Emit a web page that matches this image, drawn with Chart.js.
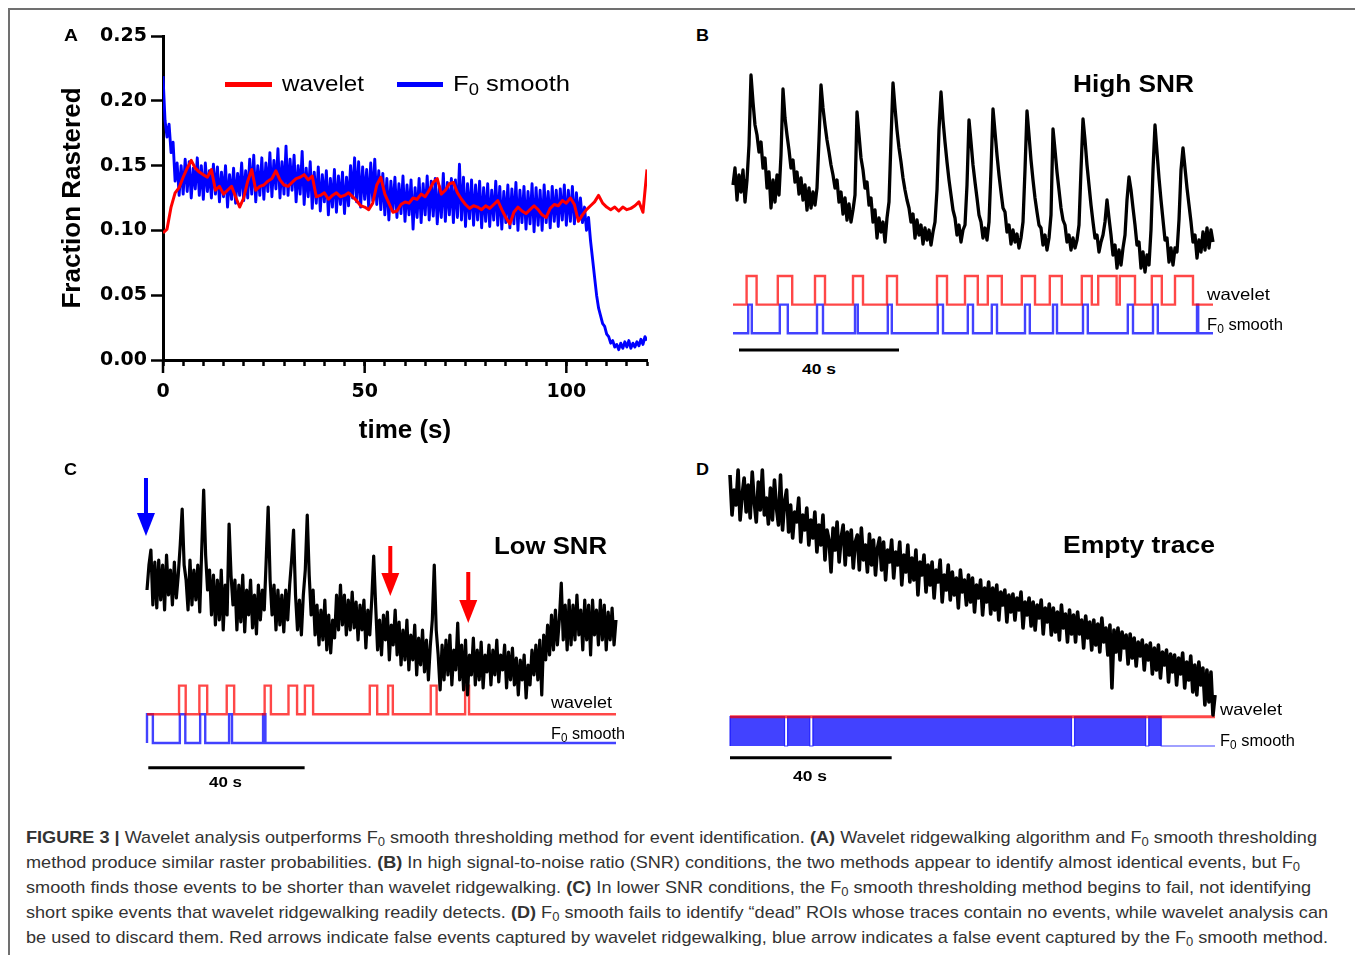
<!DOCTYPE html>
<html lang="en">
<head>
<meta charset="utf-8">
<title>Figure 3</title>
<script src="https://cdn.jsdelivr.net/npm/chart.js@4.4.1/dist/chart.umd.min.js"></script>
<style>
html,body{margin:0;padding:0;background:#fff;}
#fig{position:relative;width:1355px;height:955px;overflow:hidden;background:#fff;font-family:"Liberation Sans",Arial,Helvetica,sans-serif;color:#000;}
#fig canvas{position:absolute;}
.frameT{position:absolute;left:8px;top:8px;width:1347px;height:2px;background:#707070;}
.frameL{position:absolute;left:8px;top:8px;width:2px;height:947px;background:#707070;}
.lbl{position:absolute;white-space:nowrap;line-height:1;transform-origin:0 50%;}
.sub{font-size:0.72em;vertical-align:-0.28em;}
.cap{position:absolute;white-space:nowrap;line-height:1;transform-origin:0 50%;color:#333;font-size:17px;}
.sw{position:absolute;height:5px;}
</style>
</head>
<body>
<div id="fig">
  <div class="frameT"></div><div class="frameL"></div>
  <canvas id="chartA" width="680" height="450" style="left:0;top:0"></canvas>
  <canvas id="chartB" width="500" height="300" style="left:723px;top:60px"></canvas>
  <canvas id="chartC" width="499" height="330" style="left:127px;top:460px"></canvas>
  <canvas id="chartD" width="505" height="330" style="left:720px;top:455px"></canvas>
  <div class="sw" style="left:225px;top:82px;width:47px;background:#ff0000"></div>
  <div class="sw" style="left:397px;top:82px;width:46px;background:#0000ff"></div>
</div>
<script>
// ---------------- DATA ----------------
// Panel A: fraction rastered vs time (s)
const aWaveletStep = 1;      // s between samples
const aWavelet = [
0.098,0.101,0.118,0.129,0.133,0.141,0.148,0.154,0.148,0.145,
0.143,0.141,0.147,0.131,0.134,0.128,0.131,0.134,0.126,0.118,
0.125,0.138,0.147,0.131,0.134,0.135,0.138,0.140,0.146,0.139,
0.135,0.134,0.137,0.140,0.141,0.143,0.139,0.142,0.126,0.127,
0.129,0.124,0.127,0.129,0.126,0.127,0.129,0.126,0.123,0.119,
0.118,0.116,0.121,0.135,0.141,0.128,0.121,0.114,0.115,0.120,
0.122,0.121,0.125,0.124,0.128,0.126,0.131,0.137,0.140,0.128,
0.131,0.136,0.137,0.129,0.124,0.120,0.117,0.119,0.118,0.116,
0.119,0.117,0.120,0.123,0.116,0.110,0.105,0.114,0.118,0.115,
0.113,0.116,0.119,0.116,0.112,0.110,0.117,0.120,0.119,0.123,
0.121,0.125,0.120,0.107,0.112,0.116,0.119,0.122,0.127,0.121,
0.118,0.116,0.118,0.115,0.118,0.116,0.117,0.119,0.122,0.114,
0.147];
const aF0Step = 0.5;
const aF0 = [
0.219,0.185,0.172,0.182,0.160,0.168,0.138,0.152,0.127,0.150,
0.128,0.155,0.130,0.153,0.125,0.148,0.132,0.156,0.127,0.150,
0.124,0.152,0.130,0.146,0.125,0.151,0.128,0.149,0.122,0.145,
0.126,0.150,0.118,0.143,0.124,0.148,0.121,0.144,0.127,0.152,
0.123,0.146,0.125,0.155,0.128,0.158,0.122,0.150,0.127,0.156,
0.124,0.152,0.130,0.160,0.126,0.154,0.132,0.163,0.125,0.153,
0.128,0.165,0.127,0.155,0.131,0.158,0.122,0.150,0.128,0.161,
0.120,0.148,0.126,0.153,0.117,0.145,0.121,0.149,0.115,0.143,
0.122,0.146,0.112,0.140,0.118,0.147,0.114,0.142,0.120,0.145,
0.113,0.141,0.119,0.150,0.125,0.156,0.122,0.153,0.118,0.149,
0.124,0.147,0.117,0.152,0.123,0.155,0.120,0.146,0.116,0.144,
0.112,0.140,0.108,0.138,0.115,0.141,0.110,0.136,0.113,0.142,
0.107,0.135,0.112,0.139,0.101,0.133,0.110,0.140,0.106,0.136,
0.112,0.142,0.108,0.138,0.111,0.140,0.105,0.134,0.110,0.144,
0.107,0.137,0.112,0.140,0.106,0.139,0.110,0.151,0.108,0.141,
0.103,0.136,0.109,0.139,0.104,0.135,0.108,0.138,0.102,0.133,
0.107,0.136,0.103,0.131,0.108,0.138,0.104,0.134,0.101,0.130,
0.106,0.135,0.102,0.132,0.105,0.137,0.100,0.131,0.106,0.134,
0.101,0.130,0.105,0.136,0.099,0.133,0.104,0.131,0.100,0.135,
0.106,0.130,0.102,0.134,0.107,0.131,0.103,0.132,0.108,0.135,
0.104,0.131,0.107,0.134,0.105,0.129,0.109,0.125,0.106,0.118,
0.100,0.110,0.092,0.078,0.064,0.050,0.040,0.034,0.028,0.026,
0.020,0.018,0.013,0.015,0.010,0.012,0.008,0.013,0.009,0.014,
0.010,0.015,0.009,0.013,0.010,0.014,0.011,0.016,0.012,0.018,
0.015];
const aXMajorTicks = [0, 50, 100];
const aXMinorStep = 5;
const aYTickStep = 0.05;

// Panels B-D: fluorescence traces (a.u.), sampled every 0.5 s over 120 s
const traceStep = 0.5;
const traceEnd = 120;
const scaleBarSeconds = 40;

const bTrace = [
0.95,1.12,0.80,1.05,0.88,1.10,0.78,1.00,1.35,2.05,
1.78,1.55,1.45,1.28,1.38,1.12,1.22,0.92,1.08,0.72,
1.00,0.78,1.05,0.85,1.25,1.91,1.62,1.45,1.30,1.12,
1.20,0.98,1.08,0.86,1.02,0.80,0.95,0.70,0.92,0.72,
0.88,0.75,0.92,1.40,1.95,1.72,1.55,1.40,1.28,1.15,
1.05,0.92,1.00,0.78,0.88,0.66,0.82,0.60,0.76,0.58,
0.70,0.85,1.68,1.45,1.22,1.10,0.92,0.98,0.75,0.82,
0.58,0.70,0.42,0.62,0.48,0.58,0.38,0.62,0.78,1.40,
1.97,1.72,1.50,1.32,1.18,1.02,0.90,0.80,0.72,0.58,
0.66,0.42,0.60,0.45,0.55,0.36,0.52,0.40,0.50,0.35,
0.48,0.58,0.90,1.50,1.88,1.60,1.38,1.18,1.00,0.85,
0.70,0.62,0.45,0.55,0.38,0.50,0.55,0.95,1.60,1.38,
1.15,0.98,0.82,0.65,0.58,0.42,0.52,0.40,0.58,1.10,
1.71,1.48,1.25,1.05,0.88,0.72,0.68,0.48,0.55,0.36,
0.50,0.38,0.46,0.32,0.42,0.58,1.10,1.69,1.45,1.20,
1.00,0.82,0.68,0.55,0.52,0.35,0.45,0.30,0.42,0.65,
1.51,1.30,1.08,0.90,0.72,0.60,0.55,0.38,0.45,0.30,
0.42,0.32,0.40,0.55,1.10,1.61,1.40,1.15,0.95,0.75,
0.58,0.42,0.45,0.28,0.38,0.45,0.58,0.80,0.62,0.45,
0.25,0.35,0.12,0.30,0.15,0.32,0.45,0.80,1.03,0.90,
0.72,0.55,0.35,0.38,0.12,0.28,0.08,0.25,0.15,0.50,
1.10,1.55,1.28,1.02,0.80,0.60,0.40,0.42,0.18,0.32,
0.15,0.32,0.28,0.60,1.10,1.32,1.12,0.92,0.75,0.58,
0.38,0.45,0.22,0.40,0.28,0.48,0.30,0.52,0.32,0.50,
0.38];
const bWaveletOn  = [3.4,11.2,20.5,30.0,38.5,51.0,58.0,63.7,72.2,79.2,87.2,91.3,96.7,104.7,110.5];
const bWaveletOff = [5.9,14.8,23.0,32.5,41.0,53.5,61.2,67.2,75.5,82.2,89.7,95.9,100.5,107.2,115.0];
const bF0On  = [3.8,11.7,21.0,30.5,38.7,51.2,58.7,64.7,73.0,80.0,87.5,98.7,105.0,116.0];
const bF0Off = [4.7,13.7,22.5,31.2,39.7,52.5,60.0,66.0,74.2,81.0,88.7,100.0,106.2,116.3];
const bScaleBarStart = 1.5;

const cTrace = [
1.10,1.35,1.50,0.95,1.38,0.92,1.40,1.00,1.35,0.90,
1.45,1.05,1.30,0.95,1.38,1.02,1.25,1.55,1.91,1.35,
1.20,0.90,1.40,0.95,1.30,1.00,1.35,0.88,1.50,2.10,
1.45,1.10,1.30,0.85,1.25,0.75,1.20,0.80,1.30,0.70,
1.15,0.85,1.76,1.25,0.95,1.20,0.70,1.15,0.78,1.25,
0.68,1.10,0.85,1.20,0.72,1.05,0.66,1.15,0.80,1.10,
0.90,1.40,1.93,1.20,0.85,1.15,0.70,1.10,0.75,1.05,
0.68,1.10,0.80,1.15,1.40,1.70,1.05,0.70,1.00,0.65,
1.05,1.30,1.85,1.25,0.85,1.10,0.65,0.95,0.55,0.90,
0.60,1.00,0.50,0.85,0.47,0.80,0.62,1.05,0.70,1.15,
0.75,1.05,0.65,1.00,0.70,1.08,0.72,0.98,0.60,0.95,
0.70,1.00,0.52,0.90,0.65,1.00,1.44,0.95,0.50,0.80,
0.45,0.85,0.60,0.88,0.40,0.75,0.55,0.90,0.45,0.78,
0.35,0.70,0.40,0.80,0.30,0.65,0.40,0.75,0.25,0.62,
0.35,0.70,0.28,0.60,0.20,0.55,0.80,1.35,0.70,0.45,
0.10,0.55,0.20,0.60,0.25,0.65,0.15,0.50,0.30,0.77,
0.20,0.55,0.10,0.60,0.05,0.45,0.25,0.62,0.15,0.50,
0.20,0.58,0.12,0.45,0.28,0.55,0.15,0.50,0.25,0.60,
0.18,0.45,0.30,0.55,0.12,0.48,0.20,0.52,0.15,0.42,
0.05,0.40,0.20,0.45,0.02,0.35,0.15,0.50,0.25,0.55,
0.20,0.60,0.05,0.65,0.40,0.75,0.45,0.85,0.50,0.90,
0.55,0.80,1.17,0.60,0.95,0.50,1.00,0.55,0.95,0.60,
1.05,0.65,0.90,0.50,1.00,0.60,0.95,0.45,1.00,0.65,
0.90,0.55,1.00,0.60,0.95,0.50,0.88,0.60,0.92,0.55,
0.80];
const cWaveletOn  = [8.2,13.4,20.4,30.1,36.2,40.4,57.0,61.7,72.6,81.4];
const cWaveletOff = [9.9,15.4,22.3,31.7,38.4,42.5,58.9,62.9,74.1,82.4];
const cF0On  = [0.0,8.4,13.6,21.0,29.7];
const cF0Off = [1.5,9.8,14.9,21.75,30.3];
const cScaleBarStart = 0.33;
// arrows marking false events (time s, top and tip in trace units)
const cArrowTime  = [-0.26, 62.25, 82.2];
const cArrowTop   = [2.22, 1.54, 1.28];
const cArrowTip   = [1.64, 1.04, 0.77];
const cArrowColor = ['#0000ff', '#ff0000', '#ff0000'];

const dTrace = [
2.25,1.85,2.10,1.95,2.30,1.80,2.05,2.22,1.88,2.15,
1.82,2.28,1.98,1.78,2.18,1.90,2.30,1.85,2.02,1.76,
2.12,1.80,2.20,1.92,1.75,2.25,1.70,1.98,2.10,1.68,
1.95,1.62,1.88,1.78,2.02,1.58,1.85,1.70,1.92,1.55,
1.80,1.62,1.88,1.48,1.75,1.55,1.85,1.40,1.70,1.60,
1.28,1.72,1.50,1.78,1.38,1.62,1.75,1.35,1.68,1.45,
1.70,1.32,1.58,1.65,1.30,1.72,1.40,1.55,1.28,1.66,
1.35,1.60,1.25,1.52,1.62,1.30,1.58,1.20,1.50,1.38,
1.60,1.22,1.48,1.35,1.58,1.15,1.45,1.28,1.55,1.18,
1.42,1.20,1.50,1.05,1.38,1.25,1.45,1.08,1.35,1.15,
1.38,1.02,1.30,1.18,1.40,0.98,1.25,1.10,1.35,1.00,
1.28,1.05,1.22,0.92,1.30,1.08,1.20,0.95,1.25,0.98,
1.22,0.88,1.15,1.02,1.20,0.85,1.12,0.98,1.18,0.86,
1.12,0.90,1.15,0.80,1.08,0.95,1.10,0.78,1.05,0.88,
1.06,0.80,1.02,0.90,1.08,0.72,0.98,0.85,1.02,0.74,
0.98,0.70,0.95,0.82,1.00,0.66,0.92,0.78,0.96,0.65,
0.92,0.68,0.88,0.60,0.95,0.72,0.86,0.58,0.90,0.66,
0.85,0.58,0.88,0.66,0.80,0.52,0.84,0.62,0.78,0.50,
0.80,0.55,0.76,0.48,0.82,0.58,0.72,0.45,0.75,0.12,
0.70,0.48,0.72,0.40,0.68,0.52,0.65,0.36,0.66,0.42,
0.62,0.34,0.58,0.44,0.60,0.30,0.55,0.40,0.57,0.26,
0.52,0.30,0.55,0.22,0.48,0.35,0.50,0.18,0.46,0.28,
0.45,0.15,0.42,0.26,0.47,0.12,0.38,0.20,0.44,0.08,
0.35,0.05,0.38,0.15,0.32,-0.05,0.30,-0.02,0.28,-0.15,
0.05];
const dWaveletOn  = [];
const dWaveletOff = [];
const dF0On  = [0.0,14.25,20.5,85.25,103.6];
const dF0Off = [13.5,19.75,84.5,102.85,106.7];
const dScaleBarStart = 0.0;

// ---------------- HELPERS ----------------
const RED = '#ff0000', BLUE = '#0000ff';
const RASTER_RED = 'rgba(255,0,0,0.72)', RASTER_BLUE = 'rgba(0,0,255,0.74)';

function series(values, step){ return values.map((v,i)=>({x:i*step, y:v})); }
function rasterPoints(on, off, base, high){
  const pts = [{x:0, y:base}];
  for (let i=0;i<on.length;i++){
    pts.push({x:on[i],y:base},{x:on[i],y:high},{x:off[i],y:high},{x:off[i],y:base});
  }
  pts.push({x:traceEnd, y:base});
  return pts;
}
function scaleBarPlugin(start, level){
  return {
    id:'scaleBar',
    afterDatasetsDraw(chart){
      const {ctx, scales} = chart;
      const x1 = scales.x.getPixelForValue(start), x2 = scales.x.getPixelForValue(start+scaleBarSeconds);
      const y = scales.yr.getPixelForValue(level);
      ctx.save(); ctx.strokeStyle='#000'; ctx.lineWidth=3; ctx.lineCap='butt';
      ctx.beginPath(); ctx.moveTo(x1,y); ctx.lineTo(x2,y); ctx.stroke(); ctx.restore();
    }
  };
}
function traceDataset(values, width){
  return {label:'trace', data:series(values, traceStep), yAxisID:'y', borderColor:'#000', borderWidth:width,
          pointRadius:0, tension:0, borderJoinStyle:'round', clip:false, order:0};
}
function rasterDataset(label, pts, color, order, fill){
  return {label, data:pts, yAxisID:'yr', borderColor:color, backgroundColor:color, borderWidth:2.4,
          pointRadius:0, tension:0, clip:false, order, fill: fill ? 'origin' : false};
}
function traceOptions(pad, yMin, yMax, rMin, rMax){
  return {
    responsive:false, animation:false, devicePixelRatio:1,
    layout:{padding:pad},
    plugins:{legend:{display:false}, tooltip:{enabled:false}},
    scales:{
      x:{type:'linear', display:false, min:0, max:traceEnd},
      y:{type:'linear', display:false, min:yMin, max:yMax},
      yr:{type:'linear', axis:'y', display:false, min:rMin, max:rMax}
    }
  };
}

// ---------------- PANEL A ----------------
const boldTick = {family:'"DejaVu Sans", sans-serif', size:19, weight:'bold'};
const boldTitle = {family:'"Liberation Sans", Arial, sans-serif', size:26, weight:'bold'};
const majorTickPlugin = {
  id:'majorTicks',
  afterDraw(chart){
    const {ctx, scales:{x}, chartArea} = chart;
    ctx.save(); ctx.strokeStyle='#000'; ctx.lineWidth=2.5;
    for (const v of aXMajorTicks){
      const px = x.getPixelForValue(v);
      ctx.beginPath(); ctx.moveTo(px, chartArea.bottom); ctx.lineTo(px, chartArea.bottom+13); ctx.stroke();
    }
    ctx.restore();
  }
};
new Chart(document.getElementById('chartA'), {
  type:'line',
  data:{datasets:[
    {label:'wavelet', data:series(aWavelet, aWaveletStep), borderColor:RED, borderWidth:3, pointRadius:0, tension:0, borderJoinStyle:'round', order:0},
    {label:'F0 smooth', data:series(aF0, aF0Step), borderColor:BLUE, borderWidth:2.9, pointRadius:0, tension:0, borderJoinStyle:'round', order:1}
  ]},
  options:{
    responsive:false, animation:false, devicePixelRatio:1,
    layout:{padding:{top:36, right:33, left:0, bottom:0}},
    plugins:{legend:{display:false}, tooltip:{enabled:false}},
    scales:{
      x:{type:'linear', min:0, max:120,
         afterFit(s){ s.height = 90; },
         border:{display:true, color:'#000', width:3},
         grid:{display:true, drawOnChartArea:false, drawTicks:true, tickLength:6, tickWidth:2.5, tickColor:'#000', color:'#000'},
         ticks:{stepSize:aXMinorStep, autoSkip:false, maxRotation:0, color:'#000', font:boldTick, padding:15,
                callback:(v)=> aXMajorTicks.includes(v) ? String(v) : ''},
         title:{display:true, text:'time (s)', color:'#000', font:boldTitle, padding:{top:0, bottom:4}}
      },
      y:{type:'linear', min:0, max:0.25,
         afterFit(s){ s.width = 163; },
         border:{display:true, color:'#000', width:3},
         grid:{display:true, drawOnChartArea:false, drawTicks:true, tickLength:12, tickWidth:2.5, tickColor:'#000', color:'#000'},
         ticks:{stepSize:aYTickStep, color:'#000', font:boldTick, padding:4, callback:(v)=> Number(v).toFixed(2)},
         title:{display:true, text:'Fraction Rastered', color:'#000', font:boldTitle, padding:{top:57, bottom:0}}
      }
    }
  },
  plugins:[majorTickPlugin]
});

// ---------------- PANEL B ----------------
new Chart(document.getElementById('chartB'), {
  type:'line',
  data:{datasets:[
    traceDataset(bTrace, 3.3),
    rasterDataset('wavelet', rasterPoints(bWaveletOn, bWaveletOff, 1, 2), RASTER_RED, 1, false),
    rasterDataset('F0 smooth', rasterPoints(bF0On, bF0Off, 0, 1), RASTER_BLUE, 2, false)
  ]},
  options:traceOptions({left:10,right:10,top:0,bottom:0}, -0.8, 2.2, -0.932, 9.539),
  plugins:[scaleBarPlugin(bScaleBarStart, -0.583)]
});

// ---------------- PANEL C ----------------
const arrowPlugin = {
  id:'arrows',
  afterDatasetsDraw(chart){
    const {ctx, scales:{x, y}} = chart;
    ctx.save();
    for (let i=0;i<cArrowTime.length;i++){
      const px = x.getPixelForValue(cArrowTime[i]);
      const top = y.getPixelForValue(cArrowTop[i]);
      const tip = y.getPixelForValue(cArrowTip[i]);
      const headLen = 23, halfW = 9, shaft = 4;
      ctx.fillStyle = cArrowColor[i];
      ctx.fillRect(px - shaft/2, top, shaft, (tip - headLen) - top + 1);
      ctx.beginPath();
      ctx.moveTo(px - halfW, tip - headLen); ctx.lineTo(px + halfW, tip - headLen); ctx.lineTo(px, tip);
      ctx.closePath(); ctx.fill();
    }
    ctx.restore();
  }
};
new Chart(document.getElementById('chartC'), {
  type:'line',
  data:{datasets:[
    traceDataset(cTrace, 3.2),
    rasterDataset('wavelet', rasterPoints(cWaveletOn, cWaveletOff, 1, 2), RASTER_RED, 1, false),
    rasterDataset('F0 smooth', rasterPoints(cF0On, cF0Off, 0, 1), RASTER_BLUE, 2, false)
  ]},
  options:traceOptions({left:20,right:10,top:0,bottom:0}, -0.9, 2.4, -1.637, 9.861),
  plugins:[scaleBarPlugin(cScaleBarStart, -0.861), arrowPlugin]
});

// ---------------- PANEL D ----------------
new Chart(document.getElementById('chartD'), {
  type:'line',
  data:{datasets:[
    traceDataset(dTrace, 3.6),
    Object.assign(rasterDataset('wavelet', rasterPoints(dWaveletOn, dWaveletOff, 1, 2), RASTER_RED, 1, false), {borderWidth:3}),
    Object.assign(rasterDataset('F0 smooth', rasterPoints(dF0On, dF0Off, 0, 1), RASTER_BLUE, 2, true), {borderWidth:1.2})
  ]},
  options:traceOptions({left:10,right:10,top:0,bottom:0}, -0.85, 2.45, -1.331, 9.932),
  plugins:[scaleBarPlugin(dScaleBarStart, -0.4)]
});

// ---------------- TEXT ----------------
const fig = document.getElementById('fig');
const F0 = 'F<span class="sub">0</span>';
// [html, left x, visual centre y, font size, bold, target width]
const textLabels = [
  ['A', 64, 35.5, 17, true, 14],
  ['B', 696, 35, 17, true, 13],
  ['C', 64, 469, 17, true, 13],
  ['D', 696, 469, 17, true, 13],
  ['wavelet', 282, 84, 22, false, 82],
  [F0 + ' smooth', 453, 84, 22, false, 117],
  ['High SNR', 1073, 84, 24, true, 121],
  ['wavelet', 1207, 294, 16.5, false, 63],
  [F0 + ' smooth', 1207, 324.5, 16.5, false, 76],
  ['40 s', 802, 368, 15, true, 34],
  ['Low SNR', 494, 546, 24, true, 113],
  ['wavelet', 551, 702.5, 16.5, false, 61],
  [F0 + ' smooth', 551, 733.5, 16.5, false, 74],
  ['40 s', 209, 781.5, 15, true, 33],
  ['Empty trace', 1063, 545, 24, true, 152],
  ['wavelet', 1220, 709, 16.5, false, 62],
  [F0 + ' smooth', 1220, 740, 16.5, false, 75],
  ['40 s', 793, 775.5, 15, true, 34]
];
const captionLines = [
  '<b>FIGURE 3 |</b> Wavelet analysis outperforms ' + F0 + ' smooth thresholding method for event identification. <b>(A)</b> Wavelet ridgewalking algorithm and ' + F0 + ' smooth thresholding',
  'method produce similar raster probabilities. <b>(B)</b> In high signal-to-noise ratio (SNR) conditions, the two methods appear to identify almost identical events, but ' + F0,
  'smooth finds those events to be shorter than wavelet ridgewalking. <b>(C)</b> In lower SNR conditions, the ' + F0 + ' smooth thresholding method begins to fail, not identifying',
  'short spike events that wavelet ridgewalking readily detects. <b>(D)</b> ' + F0 + ' smooth fails to identify \u201cdead\u201d ROIs whose traces contain no events, while wavelet analysis can',
  'be used to discard them. Red arrows indicate false events captured by wavelet ridgewalking, blue arrow indicates a false event captured by the ' + F0 + ' smooth method.'
];
const captionCenters = [837.5, 862.5, 887.5, 912.5, 937.5];
const captionWidths = [1291, 1274, 1285, 1302, 1302];
const captionLeft = 26;

const pending = [];
for (const [html, x, cy, fs, bold, w] of textLabels){
  const el = document.createElement('div');
  el.className = 'lbl';
  el.innerHTML = html;
  el.style.fontSize = fs + 'px';
  el.style.fontWeight = bold ? 'bold' : 'normal';
  el.style.left = x + 'px';
  el.style.top = (cy - 0.487*fs) + 'px';
  fig.appendChild(el);
  pending.push([el, w]);
}
captionLines.forEach((html, i) => {
  const el = document.createElement('div');
  el.className = 'cap';
  el.innerHTML = html;
  el.style.left = captionLeft + 'px';
  el.style.top = (captionCenters[i] - 0.487*17) + 'px';
  fig.appendChild(el);
  pending.push([el, captionWidths[i]]);
});
function fitAll(){
  for (const [el, w] of pending){
    el.style.transform = 'none';
    const cur = el.getBoundingClientRect().width;
    if (cur > 0) el.style.transform = 'scaleX(' + (w/cur).toFixed(4) + ')';
  }
}
fitAll();
if (document.fonts && document.fonts.ready) document.fonts.ready.then(fitAll);
</script>
</body>
</html>
